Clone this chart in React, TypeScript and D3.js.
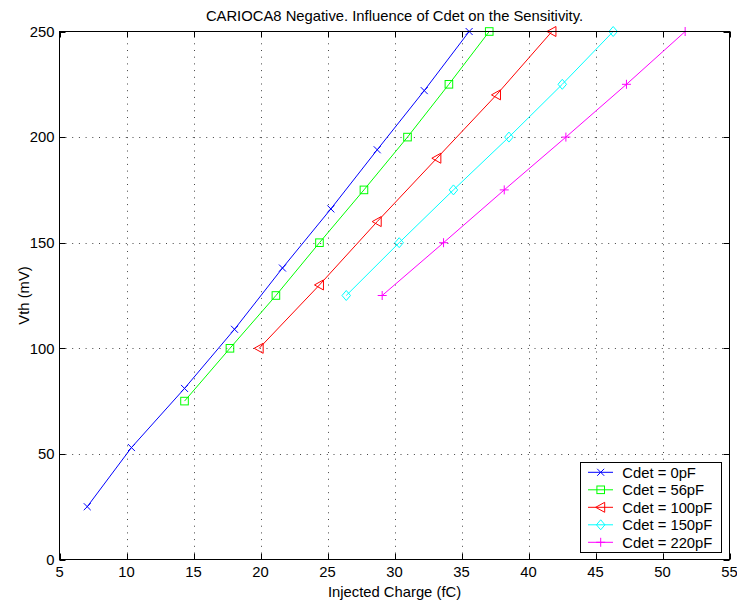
import React from "react";
import * as d3 from "d3";

const chartTitle = "CARIOCA8 Negative. Influence of Cdet on the Sensitivity.";
const xLabel = "Injected Charge (fC)";
const yLabel = "Vth (mV)";
const xTicks = [5, 10, 15, 20, 25, 30, 35, 40, 45, 50, 55];
const yTicks = [0, 50, 100, 150, 200, 250];

const seriesNames = ["Cdet = 0pF", "Cdet = 56pF", "Cdet = 100pF", "Cdet = 150pF", "Cdet = 220pF"];
const seriesColors = ["#0000ff", "#00ff00", "#ff0000", "#00ffff", "#ff00ff"];
const seriesMarkers = ["x", "square", "triangleLeft", "diamond", "plus"];

const charge0 = [7.07, 10.37, 14.33, 18.06, 21.64, 25.25, 28.71, 32.22, 35.57];
const vth0 = [25, 53, 81, 109, 138, 166, 194, 222, 250];
const charge56 = [14.33, 17.72, 21.15, 24.4, 27.72, 30.97, 34.06, 37.07];
const vth56 = [75, 100, 125, 150, 175, 200, 225, 250];
const charge100 = [19.9, 24.4, 28.71, 33.16, 37.61, 41.75];
const vth100 = [100, 130, 160, 190, 220, 250];
const charge150 = [26.4, 30.35, 34.4, 38.54, 42.52, 46.32];
const vth150 = [125, 150, 175, 200, 225, 250];
const charge220 = [29.08, 33.66, 38.19, 42.79, 47.31, 51.69];
const vth220 = [125, 150, 175, 200, 225, 250];

const chargeSets = [charge0, charge56, charge100, charge150, charge220];
const vthSets = [vth0, vth56, vth100, vth150, vth220];

const W = 737;
const H = 603;
const L = 59.5, R = 729.5, T = 31.5, B = 559.5;
const FONT = "'Liberation Sans', Arial, Helvetica, sans-serif";
const FS = 14.8;

function Marker({ type, x, y, color }: { type: string; x: number; y: number; color: string }) {
  const common = { fill: "none", stroke: color, strokeWidth: 1 };
  if (type === "x") {
    const s = 3.5;
    return <path d={`M${x - s},${y - s}L${x + s},${y + s}M${x - s},${y + s}L${x + s},${y - s}`} {...common} />;
  }
  if (type === "square") {
    const s = 3.8;
    return <rect x={x - s} y={y - s} width={2 * s} height={2 * s} {...common} />;
  }
  if (type === "triangleLeft") {
    const s = 5;
    return <path d={`M${x - s},${y}L${x + s * 0.8},${y - s}L${x + s * 0.8},${y + s}Z`} {...common} />;
  }
  if (type === "diamond") {
    const s = 5;
    return <path d={`M${x},${y - s}L${x + s * 0.85},${y}L${x},${y + s}L${x - s * 0.85},${y}Z`} {...common} />;
  }
  const s = 4.5;
  return <path d={`M${x - s},${y}L${x + s},${y}M${x},${y - s}L${x},${y + s}`} {...common} />;
}

export default function App() {
  const x = d3.scaleLinear().domain([5, 55]).range([L, R]);
  const y = d3.scaleLinear().domain([0, 250]).range([B, T]);
  const line = d3
    .line<[number, number]>()
    .x((d) => x(d[0]))
    .y((d) => y(d[1]));

  const tick = 6;
  const legL = 580.5, legT = 462.5, legR = 721.5, legB = 552.5;
  const legY0 = 472.3, legDy = 17.5;

  return (
    <svg
      width={W}
      height={H}
      style={{ position: "absolute", left: 0, top: 0, background: "#fff" }}
      fontFamily={FONT}
    >
      <rect x={0} y={0} width={W} height={H} fill="#fff" />
      {/* grid */}
      <g stroke="#444" strokeWidth={1} strokeDasharray="1,5.7">
        {xTicks.slice(1, -1).map((t) => (
          <line key={"gx" + t} x1={Math.round(x(t)) + 0.5} x2={Math.round(x(t)) + 0.5} y1={B - tick} y2={T + tick} />
        ))}
        {yTicks.slice(1, -1).map((t) => (
          <line key={"gy" + t} x1={L + tick} x2={R - tick} y1={Math.round(y(t)) + 0.5} y2={Math.round(y(t)) + 0.5} />
        ))}
      </g>
      {/* ticks */}
      <g stroke="#000" strokeWidth={1}>
        {xTicks.map((t) => {
          const px = Math.round(x(t)) + 0.5;
          return (
            <g key={"tx" + t}>
              <line x1={px} x2={px} y1={B} y2={B - tick} />
              <line x1={px} x2={px} y1={T} y2={T + tick} />
            </g>
          );
        })}
        {yTicks.map((t) => {
          const py = Math.round(y(t)) + 0.5;
          return (
            <g key={"ty" + t}>
              <line x1={L} x2={L + tick} y1={py} y2={py} />
              <line x1={R} x2={R - tick} y1={py} y2={py} />
            </g>
          );
        })}
      </g>
      {/* series */}
      {chargeSets.map((cs, i) => {
        const pts: [number, number][] = cs.map((c, j) => [c, vthSets[i][j]]);
        return (
          <g key={"s" + i}>
            <path d={line(pts) || ""} fill="none" stroke={seriesColors[i]} strokeWidth={1} />
            {pts.map((p, j) => (
              <Marker key={j} type={seriesMarkers[i]} x={x(p[0])} y={y(p[1])} color={seriesColors[i]} />
            ))}
          </g>
        );
      })}
      {/* box */}
      <rect x={L} y={T} width={R - L} height={B - T} fill="none" stroke="#000" strokeWidth={1} />
      {/* tick labels */}
      <g fontSize={FS} fill="#000">
        {xTicks.map((t) => (
          <text key={"lx" + t} x={x(t)} y={577} textAnchor="middle">
            {t}
          </text>
        ))}
        {yTicks.map((t) => (
          <text key={"ly" + t} x={54.5} y={y(t) + 5.3} textAnchor="end">
            {t}
          </text>
        ))}
      </g>
      {/* labels */}
      <text x={(L + R) / 2} y={20.5} textAnchor="middle" fontSize={FS}>
        {chartTitle}
      </text>
      <text x={(L + R) / 2} y={596.5} textAnchor="middle" fontSize={FS}>
        {xLabel}
      </text>
      <text transform={`translate(28.5,${(T + B) / 2}) rotate(-90)`} textAnchor="middle" fontSize={FS}>
        {yLabel}
      </text>
      {/* legend */}
      <rect x={legL} y={legT} width={legR - legL} height={legB - legT} fill="#fff" stroke="#000" strokeWidth={1} />
      {seriesNames.map((n, i) => {
        const ly = legY0 + i * legDy;
        return (
          <g key={"lg" + i}>
            <line x1={588} x2={613} y1={ly} y2={ly} stroke={seriesColors[i]} strokeWidth={1} />
            <Marker type={seriesMarkers[i]} x={600.7} y={ly} color={seriesColors[i]} />
            <text x={622.3} y={ly + 5.3} fontSize={FS} fill="#000">
              {n}
            </text>
          </g>
        );
      })}
    </svg>
  );
}
